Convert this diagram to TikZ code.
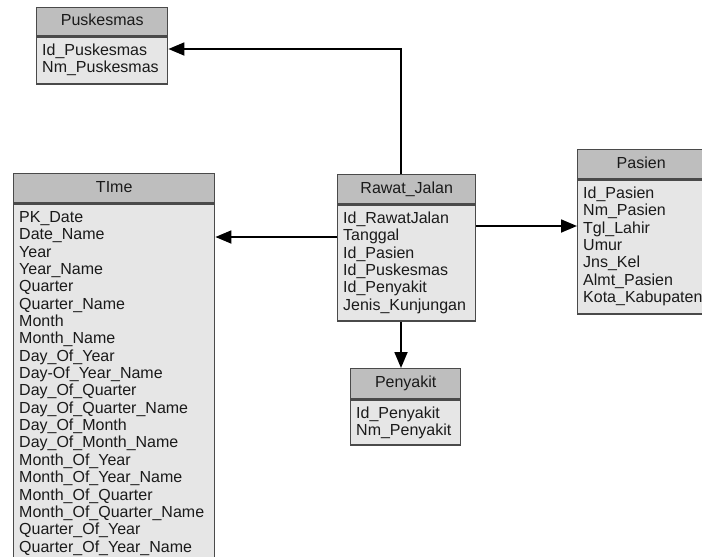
\documentclass[tikz,border=0pt]{standalone}
\usepackage{fontspec}
\setmainfont{Liberation Sans}
\usetikzlibrary{arrows.meta,calc}
\definecolor{hdrgray}{HTML}{BEBEBE}
\definecolor{bodygray}{HTML}{E6E6E6}
\definecolor{edgegray}{HTML}{4A4A4A}
\definecolor{txtgray}{HTML}{1A1A1A}
\tikzset{
  tblhead/.style={draw=edgegray, fill=hdrgray, line width=1.4pt, anchor=north west,
    inner sep=0pt, text height=11.5pt, text depth=3pt,
    font=\fontsize{16}{17}\selectfont, text=txtgray},
  tblbody/.style={draw=edgegray, fill=bodygray, line width=1.4pt, anchor=north west, inner sep=0pt},
  rowtext/.style={anchor=base west, inner sep=0pt, font=\fontsize{16}{17}\selectfont, text=txtgray},
  conn/.style={line width=1.8pt, -{Triangle[length=16pt,width=13pt]}},
}
% name, x, y, width, header height, body height, title, rows
\newcommand{\ertable}[8]{%
  \node[tblhead, minimum width=#4pt, minimum height=#5pt] (#1-h) at (#2,#3) {#7};
  \node[tblbody, minimum width=#4pt, minimum height=#6pt] (#1) at (#1-h.south west) {};
  \foreach \rowname [count=\rowidx] in {#8} {
    \node[rowtext] (#1-\rowidx) at ($(#1.north west)+(6,19+17.35*\rowidx-17.35)$) {\rowname};
  }%
}
\begin{document}
\begin{tikzpicture}[x=1pt,y=-1pt]
\useasboundingbox (0,0) rectangle (702,557);
\ertable{pusk}{36}{7}{131}{28}{47}{Puskesmas}{Id\_Puskesmas,Nm\_Puskesmas}
\ertable{time}{13}{173}{201}{29}{390}{TIme}{PK\_Date,Date\_Name,Year,Year\_Name,Quarter,Quarter\_Name,Month,Month\_Name,Day\_Of\_Year,Day-Of\_Year\_Name,Day\_Of\_Quarter,Day\_Of\_Quarter\_Name,Day\_Of\_Month,Day\_Of\_Month\_Name,Month\_Of\_Year,Month\_Of\_Year\_Name,Month\_Of\_Quarter,Month\_Of\_Quarter\_Name,Quarter\_Of\_Year,Quarter\_Of\_Year\_Name}
\ertable{rawat}{337}{174}{138}{29}{116}{Rawat\_Jalan}{Id\_RawatJalan,Tanggal,Id\_Pasien,Id\_Puskesmas,Id\_Penyakit,Jenis\_Kunjungan}
\ertable{pasien}{577}{149}{127}{29}{134}{Pasien}{Id\_Pasien,Nm\_Pasien,Tgl\_Lahir,Umur,Jns\_Kel,Almt\_Pasien,Kota\_Kabupaten}
\ertable{peny}{350}{368}{110}{30}{45}{Penyakit}{Id\_Penyakit,Nm\_Penyakit}
\coordinate (pbend) at (401,49);
\coordinate (tjoin) at (0,237);
\coordinate (pjoin) at (0,226);
\draw[conn] (rawat-h.north -| pbend) -- (pbend) -- (pusk.east |- pbend);
\draw[conn] (rawat.west |- tjoin) -- (time.east |- tjoin);
\draw[conn] (rawat.east |- pjoin) -- (pasien.west |- pjoin);
\draw[conn] (rawat.south -| pbend) -- (peny-h.north -| pbend);
\end{tikzpicture}
\end{document}
